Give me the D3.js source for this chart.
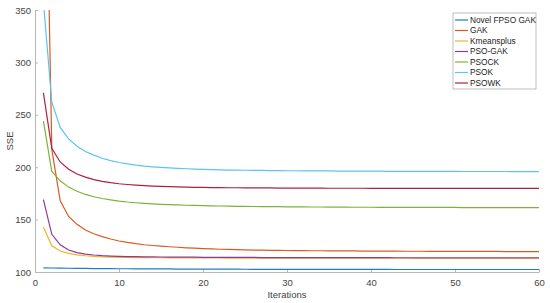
<!DOCTYPE html>
<html>
<head>
<meta charset="utf-8">
<script src="https://cdn.jsdelivr.net/npm/d3@7"></script>
<style>
  html, body { margin: 0; padding: 0; background: #fff; }
  #line-chart { width: 550px; height: 303px; }
  text { font-family: "Liberation Sans", Arial, sans-serif; }
</style>
</head>
<body>
<div id="line-chart"></div>
<script>
// iterations 1..60
const iterations = d3.range(1, 61);

const seriesNames = ["Novel FPSO GAK", "GAK", "Kmeansplus", "PSO-GAK", "PSOCK", "PSOK", "PSOWK"];
const seriesColors = ["#1f7ec4", "#dc5a22", "#efb42c", "#8a3c9a", "#7db33a", "#5cc4f0", "#aa2242"];

const novelFpsoGak = [
  104.0, 103.8, 103.7, 103.6, 103.5, 103.4, 103.3, 103.3, 103.2, 103.1,
  103.1, 103.0, 103.0, 102.9, 102.9, 102.9, 102.8, 102.8, 102.8, 102.7,
  102.7, 102.7, 102.7, 102.7, 102.6, 102.6, 102.6, 102.6, 102.6, 102.6,
  102.6, 102.5, 102.5, 102.5, 102.5, 102.5, 102.5, 102.5, 102.5, 102.5,
  102.5, 102.5, 102.4, 102.4, 102.4, 102.4, 102.4, 102.4, 102.4, 102.4,
  102.4, 102.4, 102.4, 102.4, 102.4, 102.4, 102.4, 102.4, 102.4, 102.4
];
const gak = [
  640, 217, 168, 153, 145.5, 140, 136.5, 133.8, 131.5, 129.6,
  128.2, 127.0, 126.0, 125.3, 124.7, 124.1, 123.6, 123.1, 122.7, 122.3,
  122.0, 121.7, 121.5, 121.3, 121.1, 120.9, 120.8, 120.7, 120.6, 120.5,
  120.4, 120.4, 120.3, 120.3, 120.2, 120.2, 120.1, 120.1, 120.0, 120.0,
  119.9, 119.9, 119.9, 119.8, 119.8, 119.8, 119.7, 119.7, 119.7, 119.7,
  119.6, 119.6, 119.6, 119.6, 119.6, 119.5, 119.5, 119.5, 119.5, 119.5
];
const kmeansplus = [
  143, 125, 120, 117.8, 116.3, 115.5, 114.9, 114.5, 114.2, 114.0,
  113.9, 113.8, 113.7, 113.6, 113.6, 113.5, 113.5, 113.5, 113.4, 113.4,
  113.4, 113.4, 113.3, 113.3, 113.3, 113.3, 113.3, 113.2, 113.2, 113.2,
  113.2, 113.2, 113.2, 113.2, 113.1, 113.1, 113.1, 113.1, 113.1, 113.1,
  113.1, 113.1, 113.1, 113.1, 113.0, 113.0, 113.0, 113.0, 113.0, 113.0,
  113.0, 113.0, 113.0, 113.0, 113.0, 113.0, 113.0, 113.0, 113.0, 113.0
];
const psoGak = [
  169, 136, 126, 121, 118.5, 117.0, 116.2, 115.6, 115.2, 114.9,
  114.7, 114.6, 114.5, 114.4, 114.3, 114.2, 114.2, 114.1, 114.1, 114.0,
  114.0, 114.0, 113.9, 113.9, 113.9, 113.9, 113.8, 113.8, 113.8, 113.8,
  113.8, 113.8, 113.7, 113.7, 113.7, 113.7, 113.7, 113.7, 113.7, 113.7,
  113.7, 113.7, 113.6, 113.6, 113.6, 113.6, 113.6, 113.6, 113.6, 113.6,
  113.6, 113.6, 113.6, 113.6, 113.6, 113.6, 113.6, 113.6, 113.6, 113.6
];
const psock = [
  244, 196, 187, 181, 177, 174, 171.8, 170.1, 168.8, 167.7,
  166.8, 166.1, 165.5, 165.0, 164.6, 164.3, 164.0, 163.7, 163.5, 163.3,
  163.1, 163.0, 162.8, 162.7, 162.6, 162.5, 162.4, 162.3, 162.3, 162.2,
  162.1, 162.1, 162.0, 162.0, 161.9, 161.9, 161.9, 161.8, 161.8, 161.8,
  161.7, 161.7, 161.7, 161.7, 161.6, 161.6, 161.6, 161.6, 161.6, 161.6,
  161.5, 161.5, 161.5, 161.5, 161.5, 161.5, 161.5, 161.5, 161.5, 161.5
];
const psok = [
  358, 262, 238, 227, 220, 215, 211.5, 208.5, 206.3, 204.5,
  203.1, 202.0, 201.1, 200.4, 199.8, 199.3, 198.9, 198.5, 198.2, 197.9,
  197.7, 197.5, 197.3, 197.2, 197.1, 197.0, 196.9, 196.8, 196.7, 196.6,
  196.6, 196.5, 196.5, 196.4, 196.4, 196.3, 196.3, 196.3, 196.2, 196.2,
  196.2, 196.1, 196.1, 196.1, 196.1, 196.0, 196.0, 196.0, 196.0, 196.0,
  195.9, 195.9, 195.9, 195.9, 195.9, 195.9, 195.8, 195.8, 195.8, 195.8
];
const psowk = [
  271, 218, 205, 198, 193.5, 190.5, 188.2, 186.5, 185.2, 184.2,
  183.5, 182.9, 182.4, 182.0, 181.7, 181.4, 181.2, 181.0, 180.8, 180.7,
  180.6, 180.5, 180.4, 180.4, 180.3, 180.3, 180.2, 180.2, 180.1, 180.1,
  180.1, 180.0, 180.0, 180.0, 179.9, 179.9, 179.9, 179.9, 179.9, 179.8,
  179.8, 179.8, 179.8, 179.8, 179.8, 179.7, 179.7, 179.7, 179.7, 179.7,
  179.7, 179.7, 179.7, 179.7, 179.7, 179.7, 179.7, 179.7, 179.7, 179.7
];

const xTicks = [0, 10, 20, 30, 40, 50, 60];
const yTicks = [100, 150, 200, 250, 300, 350];

(function() {
  const containerId = "#line-chart";

  const renderChart = () => {
    d3.select(containerId).selectAll("*").remove();

    const width = 550;
    const height = 303;
    const margin = { top: 10, right: 11, bottom: 31, left: 35 };
    const axisColor = "#b8b8b8";
    const textColor = "#444";

    const svg = d3.select(containerId)
      .append("svg")
      .attr("width", width)
      .attr("height", height);

    const allSeries = [novelFpsoGak, gak, kmeansplus, psoGak, psock, psok, psowk];
    const data = seriesNames.map((name, i) => ({
      name,
      color: seriesColors[i],
      values: iterations.map((it, j) => ({ it, v: allSeries[i][j] }))
    }));

    const xScale = d3.scaleLinear().domain([0, 60]).range([margin.left, width - margin.right]);
    const yScale = d3.scaleLinear().domain([100, 350]).range([height - margin.bottom, margin.top]);

    svg.append("clipPath").attr("id", "plot-clip")
      .append("rect")
      .attr("x", margin.left).attr("y", margin.top)
      .attr("width", width - margin.left - margin.right)
      .attr("height", height - margin.top - margin.bottom);

    // axes, ticks pointing inward like matlab
    const xAxis = svg.append("g")
      .attr("transform", `translate(0, ${height - margin.bottom})`)
      .call(d3.axisBottom(xScale).tickValues(xTicks).tickSizeInner(-3).tickSizeOuter(0).tickPadding(7));
    const yAxis = svg.append("g")
      .attr("transform", `translate(${margin.left}, 0)`)
      .call(d3.axisLeft(yScale).tickValues(yTicks).tickSizeInner(-3).tickSizeOuter(0).tickPadding(4));

    [xAxis, yAxis].forEach(g => {
      g.select(".domain").attr("stroke", axisColor);
      g.selectAll(".tick line").attr("stroke", axisColor);
      g.selectAll(".tick text")
        .attr("fill", textColor)
        .style("font-size", "9.5px");
    });

    const line = d3.line().x(d => xScale(d.it)).y(d => yScale(d.v));

    svg.append("g")
      .attr("clip-path", "url(#plot-clip)")
      .selectAll("path")
      .data(data)
      .join("path")
      .attr("fill", "none")
      .attr("stroke", d => d.color)
      .attr("stroke-width", 1.2)
      .attr("d", d => line(d.values));

    // axis labels
    svg.append("text")
      .attr("x", (margin.left + width - margin.right) / 2)
      .attr("y", 298)
      .attr("text-anchor", "middle")
      .attr("fill", textColor)
      .style("font-size", "9.5px")
      .text("Iterations");

    svg.append("text")
      .attr("transform", `translate(13, ${(margin.top + height - margin.bottom) / 2}) rotate(-90)`)
      .attr("text-anchor", "middle")
      .attr("fill", textColor)
      .style("font-size", "9.5px")
      .text("SSE");

    // legend
    const legend = svg.append("g").attr("transform", "translate(453, 13)");
    legend.append("rect")
      .attr("width", 83)
      .attr("height", 76)
      .attr("fill", "#fff")
      .attr("stroke", "#b0b0b0")
      .attr("stroke-width", 0.8);

    const rows = legend.selectAll("g.row")
      .data(data)
      .join("g")
      .attr("class", "row")
      .attr("transform", (d, i) => `translate(0, ${7 + i * 10.5})`);

    rows.append("line")
      .attr("x1", 2).attr("x2", 15)
      .attr("stroke", d => d.color)
      .attr("stroke-width", 1.2);

    rows.append("text")
      .attr("x", 17)
      .attr("dy", "0.35em")
      .attr("fill", "#222")
      .style("font-size", "8.3px")
      .text(d => d.name);
  };

  renderChart();
})();
</script>
</body>
</html>
